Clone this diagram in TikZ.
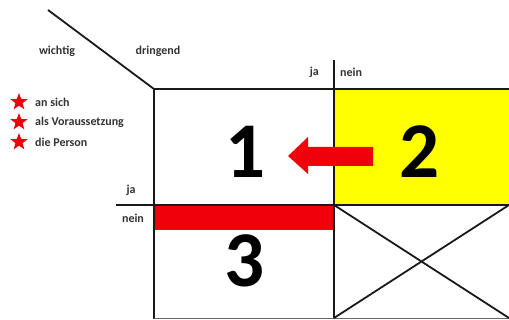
\documentclass[tikz,border=0pt]{standalone}
\usepackage{fontspec}
\setmainfont{Carlito}
\usetikzlibrary{shapes.geometric}
\definecolor{myred}{RGB}{240,0,10}
\definecolor{myyellow}{RGB}{255,255,0}
\tikzset{
  gridline/.style={line width=1.8pt, black!90},
  lbl/.style={font=\bfseries\fontsize{12}{13}\selectfont, inner sep=0pt, text=black!80},
  big/.style={font=\bfseries\fontsize{79}{79}\selectfont, inner sep=0pt},
  redstar/.style={star, star points=5, star point ratio=2.4, fill=myred, minimum size=18pt, inner sep=0pt},
}
\begin{document}
\begin{tikzpicture}[x=1pt,y=-1pt]
\useasboundingbox (0,0) rectangle (509,320);
% fills
\fill[myyellow] (334,89) rectangle (509,205);
\fill[myred] (154,205) rectangle (334,230);
% grid
\draw[gridline] (48,10) -- (154,89);
\draw[gridline] (154,89) -- (509,89);
\draw[gridline] (154,89) -- (154,319);
\draw[gridline] (334,60) -- (334,319);
\draw[gridline] (116,205) -- (509,205);
\draw[line width=1pt, black!60] (154,318.5) -- (509,318.5);
% cross
\draw[gridline] (334,205) -- (509,318);
\draw[gridline] (334,318) -- (509,205);
% arrow
\fill[myred] (373,147) -- (308,147) -- (308,137) -- (288,156) -- (308,174) -- (308,166) -- (373,166) -- cycle;
% numbers
\node[big] (n1) at (246,152) {1};
\node[big] (n2) at (420,152) {2};
\node[big] (n3) at (245,261) {3};
% labels
\node[lbl] (wichtig) at (57,51) {wichtig};
\node[lbl] (dringend) at (158,51) {dringend};
\node[lbl, anchor=east] (ja1) at (319,72) {ja};
\node[lbl, anchor=west] (nein1) at (340,72) {nein};
\node[lbl] (ja2) at (131,190) {ja};
\node[lbl] (nein2) at (133,218) {nein};
% legend
\node[redstar] (s1) at (19,102) {};
\node[redstar] (s2) at (19,122) {};
\node[redstar] (s3) at (19,142) {};
\node[lbl, anchor=west] (t1) at (35,102) {an sich};
\node[lbl, anchor=west] (t2) at (35,122) {als Voraussetzung};
\node[lbl, anchor=west] (t3) at (35,142) {die Person};
\end{tikzpicture}
\end{document}
